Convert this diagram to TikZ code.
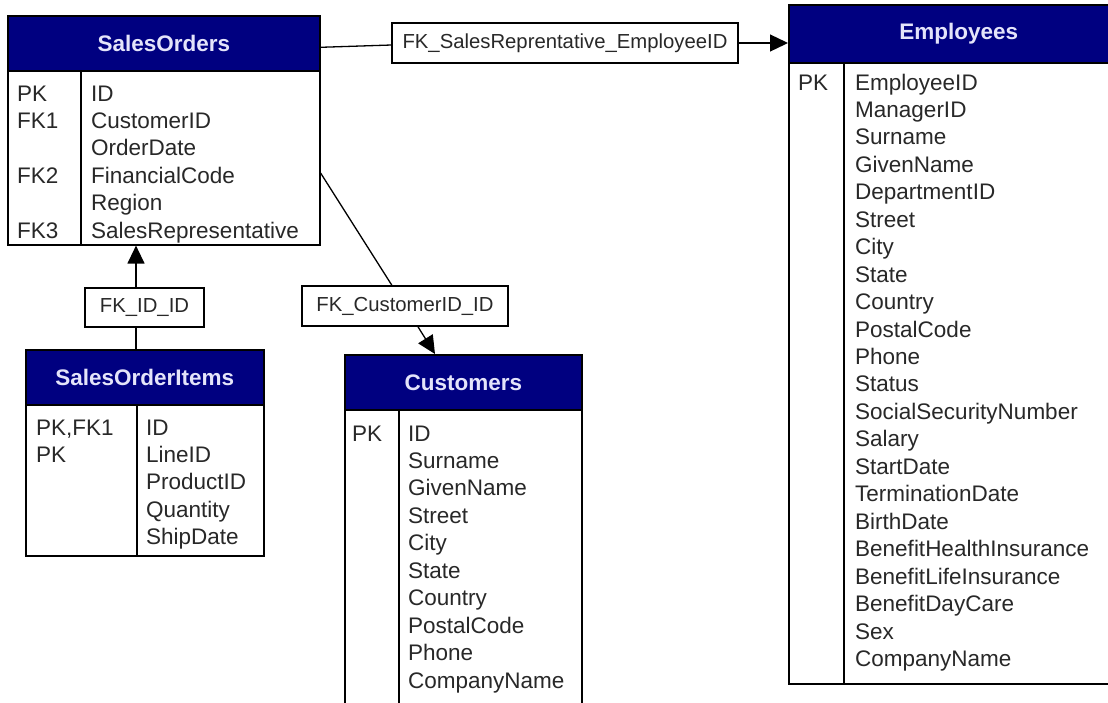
\documentclass[tikz,border=0pt]{standalone}
\usepackage{fontspec}
\setmainfont{Liberation Sans}
\usepackage{tikz}
\usetikzlibrary{arrows.meta}
\definecolor{hdrblue}{RGB}{0,0,128}
\definecolor{hdrtext}{RGB}{228,228,250}
\definecolor{fldtext}{RGB}{40,40,40}
\tikzstyle{tblhead}=[draw=black, fill=hdrblue, text=hdrtext, font=\fontsize{22.5}{27}\selectfont\bfseries, line width=1.6pt, inner sep=0pt, anchor=north west]
\tikzstyle{tblbody}=[draw=black, fill=white, line width=1.6pt, inner sep=0pt, anchor=north west]
\tikzstyle{tblline}=[draw=black, line width=1.6pt]
\tikzstyle{fld}=[text=fldtext, font=\fontsize{22.5}{27}\selectfont, inner sep=0pt, anchor=base west]
\tikzstyle{rel}=[draw=black, fill=white, line width=1.3pt, inner sep=0pt, text=fldtext, font=\fontsize{20.3}{24}\selectfont]
\tikzstyle{fk}=[draw=black, line width=1.3pt]
\tikzstyle{fkarrow}=[-{Triangle[length=18pt,width=17pt]}]

\begin{document}
\begin{tikzpicture}[x=1pt, y=-1pt]
    \useasboundingbox (0,0) rectangle (1108,702);
    \clip (0,0) rectangle (1108,702);

    % SalesOrders
    \node [tblhead, minimum width=312, minimum height=55] (SOh) at (7,15) {SalesOrders};
    \node [tblbody, minimum width=312, minimum height=174] (SOb) at (7,70) {};
    \draw [tblline] ([xshift=74pt]SOb.north west) -- ([xshift=74pt]SOb.south west);
    \foreach \k/\r in {PK/0,FK1/1,FK2/3,FK3/5}
        \node [fld] (SO-\k) at (17,101+27.45*\r) {\k};
    \foreach \f [count=\i from 0] in {ID,CustomerID,OrderDate,FinancialCode,Region,SalesRepresentative}
        \node [fld] (SO-f\i) at (91,101+27.45*\i) {\f};

    % SalesOrderItems
    \node [tblhead, minimum width=238, minimum height=55] (SOIh) at (25,349) {SalesOrderItems};
    \node [tblbody, minimum width=238, minimum height=151] (SOIb) at (25,404) {};
    \draw [tblline] ([xshift=112pt]SOIb.north west) -- ([xshift=112pt]SOIb.south west);
    \node [fld] (SOI-k0) at (36,435) {PK,FK1};
    \node [fld] (SOI-k1) at (36,462.45) {PK};
    \foreach \f [count=\i from 0] in {ID,LineID,ProductID,Quantity,ShipDate}
        \node [fld] (SOI-f\i) at (146,435+27.45*\i) {\f};

    % Customers
    \node [tblhead, minimum width=237, minimum height=55] (CUh) at (344,354) {Customers};
    \node [tblbody, minimum width=237, minimum height=330] (CUb) at (344,409) {};
    \draw [tblline] ([xshift=55pt]CUb.north west) -- ([xshift=55pt]CUb.south west);
    \node [fld] (CU-k0) at (352,441) {PK};
    \foreach \f [count=\i from 0] in {ID,Surname,GivenName,Street,City,State,Country,PostalCode,Phone,CompanyName}
        \node [fld] (CU-f\i) at (408,441+27.45*\i) {\f};

    % Employees
    \node [tblhead, minimum width=340, minimum height=58] (EMh) at (788,4) {Employees};
    \node [tblbody, minimum width=340, minimum height=621] (EMb) at (788,62) {};
    \draw [tblline] ([xshift=56pt]EMb.north west) -- ([xshift=56pt]EMb.south west);
    \node [fld] (EM-k0) at (798,90) {PK};
    \foreach \f [count=\i from 0] in {EmployeeID,ManagerID,Surname,GivenName,DepartmentID,Street,City,State,Country,PostalCode,Phone,Status,SocialSecurityNumber,Salary,StartDate,TerminationDate,BirthDate,BenefitHealthInsurance,BenefitLifeInsurance,BenefitDayCare,Sex,CompanyName}
        \node [fld] (EM-f\i) at (855,90+27.45*\i) {\f};

    % relationships
    \node [rel, minimum width=346, minimum height=40] (lblSR) at (565,43) {FK\_SalesReprentative\_EmployeeID};
    \node [rel, minimum width=119, minimum height=39] (lblID) at (144.5,307.5) {FK\_ID\_ID};
    \node [rel, minimum width=206, minimum height=40] (lblCU) at (405,306) {FK\_CustomerID\_ID};

    \coordinate (jID) at (136,0);
    \coordinate (jCUs) at (319,173);
    \coordinate (jCUe) at (435,354);

    \draw [fk] ([yshift=-4pt]SOh.east) -- ([yshift=-2pt]lblSR.west);
    \draw [fk, fkarrow] (lblSR.east) -- (lblSR.east -| EMh.west);
    \draw [fk] (SOIh.north -| jID) -- (lblID.south -| jID);
    \draw [fk, fkarrow] (lblID.north -| jID) -- (SOb.south -| jID);
    \draw [fk] (SOb.east |- jCUs) -- (lblCU);
    \draw [fk, fkarrow] (lblCU) -- (CUh.north -| jCUe);
\end{tikzpicture}
\end{document}
